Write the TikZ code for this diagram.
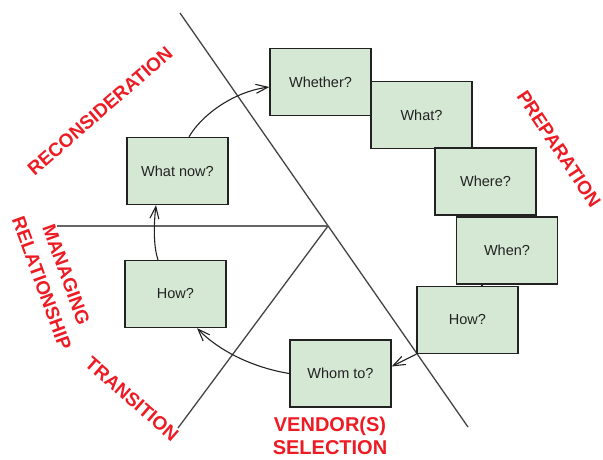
\documentclass[tikz,border=0pt]{standalone}
\usepackage{fontspec}
\setmainfont{Liberation Sans}
\usetikzlibrary{arrows.meta}
\definecolor{boxfill}{HTML}{D5E8D4}
\definecolor{lbl}{RGB}{237,28,36}
\definecolor{ink}{HTML}{222222}
\definecolor{axisgray}{HTML}{444444}
\begin{document}
\begin{tikzpicture}[x=1pt,y=-1pt,
  box/.style={draw=ink, fill=boxfill, line width=1.3pt, minimum width=101pt, minimum height=67pt, inner sep=0pt, font=\fontsize{14.5}{16}\selectfont, text=ink},
  lab/.style={text=lbl, font=\fontsize{19}{26}\selectfont\bfseries, inner sep=0pt, align=center},
  axis/.style={draw=axisgray, line width=1.3pt},
  arr/.style={draw=ink, line width=1.1pt, -{Straight Barb[length=12pt,width=9pt]}},
  tick/.style={draw=ink, line width=1.2pt}]
\useasboundingbox (0,0) rectangle (603,459);
% axes
\coordinate (c) at (328,226);
\coordinate (l1) at (180,13);
\coordinate (l2) at (468,427);
\coordinate (h1) at (57,226);
\coordinate (t1) at (178,428);
\draw[axis] (l1) -- (l2);
\draw[axis, draw=gray!80!black, line width=1.6pt] (h1) -- (c);
\draw[axis] (c) -- (t1);
% boxes
\node[box] (whether) at (320.5,82) {Whether?};
\node[box] (what) at (421.5,115) {What?};
\node[box] (where) at (485.5,181.5) {Where?};
\node[box] (when) at (507,250.5) {When?};
\node[box] (howr) at (467.5,320) {How?};
\node[box] (whom) at (340.5,373.5) {Whom to?};
\node[box] (wn) at (177.5,171) {What now?};
\node[box] (howl) at (175.5,294) {How?};
% small ticks
\draw[tick] ([xshift=7.5pt]where.south) -- ([xshift=-14pt]when.north);
\draw[tick] ([xshift=-25pt]when.south) -- ([xshift=14.5pt]howr.north);
% arrows
\draw[arr] (howr.south west) -- ([yshift=7pt]whom.east);
\draw[arr] (whom.west) .. controls (255,368) and (220,352) .. ([xshift=21.5pt]howl.south);
\draw[arr] ([xshift=-17.5pt]howl.north) .. controls (153,245) and (154,222) .. ([xshift=-21.5pt]wn.south);
\draw[arr] ([xshift=11.5pt]wn.north) .. controls (201,116) and (232,92) .. ([yshift=-5pt]whether.west);
% labels
\node[lab, rotate=41] (recon) at (100,111) {RECONSIDERATION};
\node[lab, rotate=-56.5] (prep) at (559,149) {PREPARATION};
\node[lab, rotate=-70] (manage) at (54,279) {MANAGING\\RELATIONSHIP};
\node[lab, rotate=-41] (trans) at (132,399) {TRANSITION};
\node[lab, font=\fontsize{20}{23}\selectfont\bfseries] (vend) at (330,436) {VENDOR(S)\\SELECTION};
\end{tikzpicture}
\end{document}
